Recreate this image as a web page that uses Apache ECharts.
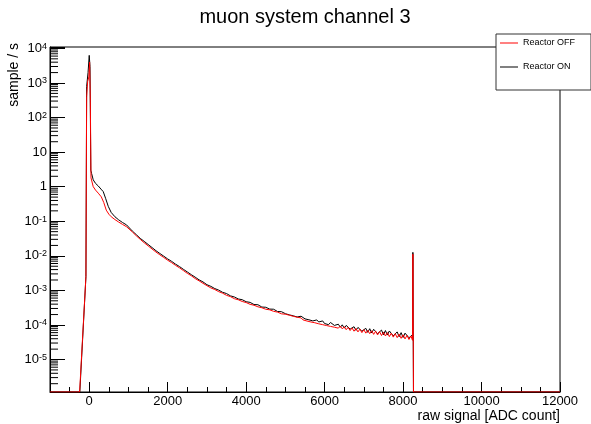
<!DOCTYPE html>
<html>
<head>
<meta charset="utf-8">
<script src="https://cdn.jsdelivr.net/npm/echarts@6/dist/echarts.min.js"></script>
<style>
  html, body { margin: 0; padding: 0; background: #fff; }
  #chart { width: 591px; height: 424px; }
</style>
</head>
<body>
<div id="chart"></div>
<script>
// 轴范围
var X_MIN = -1000, X_MAX = 12000;
var Y_MIN = 1.15e-6, Y_MAX = 1.1e4;
var FONT = 'Liberation Sans, Arial, sans-serif';

var xTickVals = [0, 2000, 4000, 6000, 8000, 10000, 12000];

// Reactor ON - 峰值区域
var onFrontAdc = [-1000, -240, -84, -66, -30, 0, 20, 40, 61, 102, 160, 230, 300, 357, 420, 485, 560, 655, 750, 850, 954, 1100, 1200, 1300];
var onFrontRate = [1.15e-6, 1.15e-6, 2.5e-3, 8e2, 2e3, 6.3e3, 3e3, 3.0, 2.4, 1.58, 1.25, 1.05, 0.85, 0.72, 0.45, 0.27, 0.18, 0.135, 0.11, 0.092, 0.078, 0.052, 0.041, 0.032];

// Reactor OFF - 峰值区域
var offFrontAdc = [-1000, -245, -84, -66, -40, -10, 10, 28, 45, 61, 102, 160, 230, 307, 370, 434, 500, 561, 655, 750, 850, 954, 1100, 1200, 1300];
var offFrontRate = [1.15e-6, 1.15e-6, 2.5e-3, 4e2, 1.1e3, 1.5e3, 4e3, 3e2, 1.8, 1.58, 1.0, 0.8, 0.65, 0.51, 0.35, 0.21, 0.16, 0.135, 0.112, 0.095, 0.081, 0.069, 0.049, 0.038, 0.030];

// 尾部 (两条曲线共用)
var tailAdc = [
  1400, 1500, 1600, 1700, 1800, 1900, 2000, 2100, 2200, 2300,
  2400, 2500, 2600, 2700, 2800, 2900, 3000, 3100, 3200, 3300,
  3400, 3500, 3600, 3700, 3800, 3900, 4000, 4100, 4200, 4300,
  4400, 4500, 4600, 4700, 4800, 4900, 5000,
  5050, 5100, 5150, 5200, 5250, 5300, 5350, 5400, 5450, 5500,
  5550, 5600, 5650, 5700, 5750, 5800, 5850, 5900, 5950, 6000,
  6050, 6100, 6150, 6200, 6250, 6300, 6350, 6400, 6450, 6500,
  6550, 6600, 6650, 6700, 6750, 6800, 6850, 6900, 6950, 7000,
  7050, 7100, 7150, 7200, 7250, 7300, 7350, 7400, 7450, 7500,
  7550, 7600, 7650, 7700, 7750, 7800, 7850, 7900, 7950, 8000,
  8050, 8100, 8150, 8200
];
var onTailRate = [
  2.63e-2, 2.14e-2, 1.74e-2, 1.41e-2, 1.17e-2, 9.77e-3, 8.13e-3, 6.92e-3, 5.75e-3, 4.90e-3,
  4.07e-3, 3.42e-3, 2.86e-3, 2.42e-3, 2.02e-3, 1.76e-3, 1.46e-3, 1.31e-3, 1.13e-3, 1.02e-3,
  8.80e-4, 8.10e-4, 6.95e-4, 6.45e-4, 5.65e-4, 5.38e-4, 4.70e-4, 4.50e-4, 3.90e-4, 3.85e-4,
  3.30e-4, 3.25e-4, 2.88e-4, 2.85e-4, 2.45e-4, 2.42e-4, 2.12e-4,
  2.24e-4, 1.96e-4, 2.08e-4, 1.84e-4, 1.95e-4, 1.70e-4, 1.85e-4, 1.79e-4, 1.60e-4, 1.50e-4,
  1.62e-4, 1.41e-4, 1.53e-4, 1.31e-4, 1.46e-4, 1.40e-4, 1.22e-4, 1.15e-4, 1.31e-4, 1.10e-4,
  1.24e-4, 1.02e-4, 1.18e-4, 1.14e-4, 9.70e-5, 9.10e-5, 1.05e-4, 8.60e-5, 1.01e-4, 8.10e-5,
  9.70e-5, 9.20e-5, 7.60e-5, 7.40e-5, 8.90e-5, 7.00e-5, 8.50e-5, 8.10e-5, 6.60e-5, 6.50e-5,
  8.00e-5, 6.10e-5, 7.80e-5, 5.90e-5, 7.50e-5, 7.20e-5, 5.60e-5, 5.50e-5, 7.10e-5, 5.20e-5,
  6.90e-5, 5.10e-5, 6.70e-5, 6.40e-5, 4.85e-5, 4.75e-5, 6.30e-5, 4.55e-5, 6.00e-5, 4.35e-5,
  5.80e-5, 5.50e-5, 4.25e-5, 4.10e-5
];
var offTailRate = [
  2.40e-2, 1.95e-2, 1.58e-2, 1.29e-2, 1.07e-2, 8.95e-3, 7.45e-3, 6.35e-3, 5.30e-3, 4.50e-3,
  3.75e-3, 3.12e-3, 2.66e-3, 2.20e-3, 1.89e-3, 1.60e-3, 1.37e-3, 1.18e-3, 1.06e-3, 9.20e-4,
  8.30e-4, 7.20e-4, 6.60e-4, 5.75e-4, 5.35e-4, 4.78e-4, 4.45e-4, 3.95e-4, 3.72e-4, 3.35e-4,
  3.15e-4, 2.85e-4, 2.74e-4, 2.48e-4, 2.35e-4, 2.10e-4, 2.05e-4,
  1.85e-4, 1.92e-4, 1.70e-4, 1.78e-4, 1.58e-4, 1.68e-4, 1.48e-4, 1.60e-4, 1.40e-4, 1.50e-4,
  1.30e-4, 1.42e-4, 1.22e-4, 1.34e-4, 1.16e-4, 1.28e-4, 1.08e-4, 1.20e-4, 1.02e-4, 1.14e-4,
  9.60e-5, 1.07e-4, 9.10e-5, 1.02e-4, 8.60e-5, 9.70e-5, 8.10e-5, 9.30e-5, 7.70e-5, 8.90e-5,
  7.30e-5, 8.50e-5, 6.90e-5, 8.20e-5, 6.60e-5, 7.90e-5, 6.30e-5, 7.60e-5, 6.00e-5, 7.30e-5,
  5.80e-5, 7.00e-5, 5.60e-5, 6.80e-5, 5.35e-5, 6.60e-5, 5.15e-5, 6.40e-5, 4.95e-5, 6.20e-5,
  4.80e-5, 6.00e-5, 4.60e-5, 5.80e-5, 4.45e-5, 5.60e-5, 4.30e-5, 5.40e-5, 4.10e-5, 5.20e-5,
  3.95e-5, 5.00e-5, 3.80e-5, 4.80e-5
];

// 8250 处的尖峰及之后
var endAdc = [8240, 8250, 8265, 12000];
var onEndRate = [5.2e-5, 1.26e-2, 1.15e-6, 1.15e-6];
var offEndRate = [3.6e-5, 1.12e-2, 1.15e-6, 1.15e-6];

function zip(xs, ys) {
  return xs.map(function (x, i) { return [x, ys[i]]; });
}
var onData = zip(onFrontAdc, onFrontRate).concat(zip(tailAdc, onTailRate), zip(endAdc, onEndRate));
var offData = zip(offFrontAdc, offFrontRate).concat(zip(tailAdc, offTailRate), zip(endAdc, offEndRate));

// 对数轴小刻度 2..9
var yMinor = [];
for (var e = -6; e <= 4; e++) {
  for (var m = 2; m <= 9; m++) {
    var v = m * Math.pow(10, e);
    if (v > Y_MIN && v < Y_MAX) yMinor.push([X_MIN, v]);
  }
}

var chart = echarts.init(document.getElementById('chart'));
var option = {
  animation: false,
  backgroundColor: '#fff',
  title: {
    text: 'muon system channel 3',
    left: 305, top: 7, padding: 0,
    textAlign: 'center',
    textStyle: { fontSize: 20, fontWeight: 'normal', color: '#000', fontFamily: FONT }
  },
  legend: {
    data: ['Reactor OFF', 'Reactor ON'],
    orient: 'vertical',
    left: 496, top: 34,
    icon: 'rect',
    itemWidth: 18, itemHeight: 1, itemGap: 14,
    padding: [4, 16, 18, 4],
    backgroundColor: '#fff',
    borderColor: '#333', borderWidth: 1,
    textStyle: { fontSize: 9, lineHeight: 10, color: '#000', fontFamily: FONT }
  },
  grid: {
    left: 50, right: 31, top: 47, bottom: 32,
    show: true, borderColor: '#000', borderWidth: 1,
    outerBoundsMode: 'none'
  },
  xAxis: [{
    type: 'value', min: X_MIN, max: X_MAX, position: 'bottom',
    axisLine: { onZero: false, lineStyle: { color: '#000', width: 1 } },
    axisTick: { inside: true, length: 10, customValues: xTickVals, lineStyle: { color: '#000' } },
    axisLabel: {
      customValues: xTickVals, fontSize: 13, color: '#000', fontFamily: FONT, margin: 3,
      formatter: function (val) { return String(val); }
    },
    splitLine: { show: false }
  }, {
    type: 'value', min: X_MIN, max: X_MAX, interval: 500, position: 'bottom',
    axisLine: { show: false, onZero: false },
    axisTick: { inside: true, length: 5, lineStyle: { color: '#000' } },
    axisLabel: { show: false },
    splitLine: { show: false }
  }],
  yAxis: {
    type: 'log', logBase: 10, min: Y_MIN, max: Y_MAX, splitNumber: 10,
    position: 'left',
    axisLine: { show: true, onZero: false, lineStyle: { color: '#000', width: 1 } },
    axisTick: { show: true, inside: true, length: 15, lineStyle: { color: '#000' } },
    axisLabel: {
      fontSize: 13, color: '#000', fontFamily: FONT, margin: 3,
      formatter: function (val) {
        var ex = Math.log10(val);
        var r = Math.round(ex);
        if (Math.abs(ex - r) > 0.01) return '';
        if (r === 0) return '1';
        if (r === 1) return '10';
        return '10{sup|' + r + '}';
      },
      rich: {
        sup: { fontSize: 9, color: '#000', fontFamily: FONT, verticalAlign: 'top' }
      }
    },
    splitLine: { show: false }
  },
  graphic: [{
    type: 'text', x: 14, y: 43, rotation: Math.PI / 2,
    style: { text: 'sample / s', font: '14px ' + FONT, fill: '#000', textAlign: 'right', textVerticalAlign: 'middle' }
  }, {
    type: 'text', x: 560, y: 416,
    style: { text: 'raw signal [ADC count]', font: '14px ' + FONT, fill: '#000', textAlign: 'right', textVerticalAlign: 'middle' }
  }],
  series: [{
    type: 'custom',
    silent: true,
    data: yMinor,
    renderItem: function (params, api) {
      var p = api.coord([api.value(0), api.value(1)]);
      return {
        type: 'line',
        shape: { x1: p[0], y1: p[1], x2: p[0] + 8, y2: p[1] },
        style: { stroke: '#000', lineWidth: 1 }
      };
    }
  }, {
    name: 'Reactor ON',
    type: 'line',
    data: onData,
    symbol: 'none',
    lineStyle: { color: '#000', width: 1 },
    itemStyle: { color: '#000' }
  }, {
    name: 'Reactor OFF',
    type: 'line',
    data: offData,
    symbol: 'none',
    lineStyle: { color: '#ff0000', width: 1 },
    itemStyle: { color: '#ff0000' }
  }]
};
chart.setOption(option);
</script>
</body>
</html>
